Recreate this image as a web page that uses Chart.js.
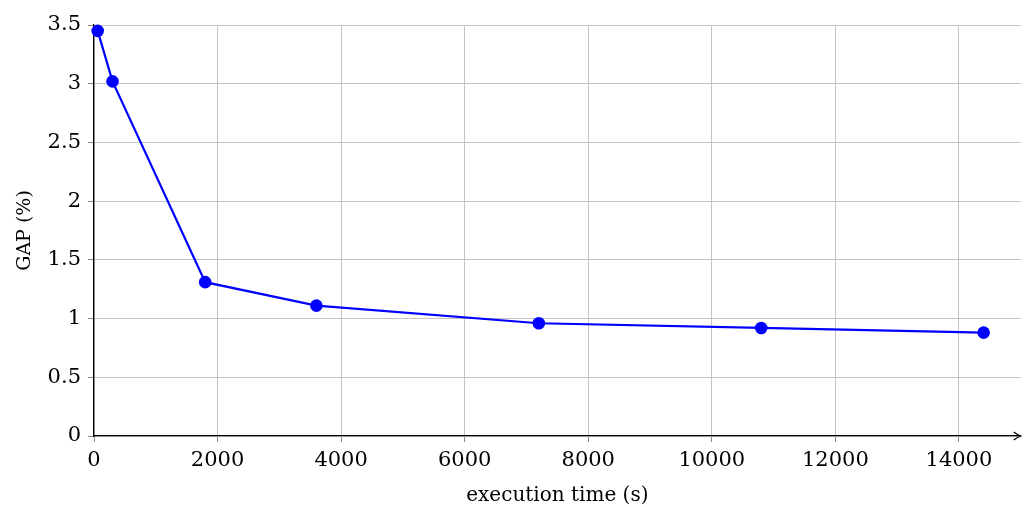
<!DOCTYPE html>
<html>
<head>
<meta charset="utf-8">
<script src="https://cdn.jsdelivr.net/npm/chart.js@4"></script>
<style>
  html, body { margin: 0; padding: 0; background: #fff; }
  #wrap { width: 1027px; height: 507px; }
</style>
</head>
<body>
<div id="wrap"><canvas id="gapChart" width="1027" height="507"></canvas></div>
<script>
// execution time (s) vs GAP (%)
const execTimes = [60, 300, 1800, 3600, 7200, 10800, 14400];
const gapValues = [3.45, 3.02, 1.31, 1.11, 0.96, 0.92, 0.88];
const xTicks = [0, 2000, 4000, 6000, 8000, 10000, 12000, 14000];
const yTicks = [0, 0.5, 1, 1.5, 2, 2.5, 3, 3.5];

const serif = "'DejaVu Serif', 'Liberation Serif', serif";

// arrow head at the end of the x axis
const axisArrow = {
  id: "axisArrow",
  afterDraw(chart) {
    const ctx = chart.ctx;
    const area = chart.chartArea;
    const y = chart.scales.y.getPixelForValue(0);
    const x = area.right;
    ctx.save();
    ctx.strokeStyle = "#000";
    ctx.lineWidth = 1.2;
    ctx.beginPath();
    ctx.moveTo(x - 7, y - 4);
    ctx.quadraticCurveTo(x - 3, y - 1, x, y);
    ctx.quadraticCurveTo(x - 3, y + 1, x - 7, y + 4);
    ctx.stroke();
    ctx.restore();
  },
};

const ctx = document.getElementById("gapChart").getContext("2d");
const chart = new Chart(ctx, {
  type: "line",
  data: {
    datasets: [
      {
        data: execTimes.map((t, i) => ({ x: t, y: gapValues[i] })),
        borderColor: "#0000ff",
        backgroundColor: "#0000ff",
        borderWidth: 2.2,
        pointRadius: 6.3,
        pointHoverRadius: 6.3,
        pointBackgroundColor: "#0000ff",
        pointBorderWidth: 0,
        fill: false,
        tension: 0,
      },
    ],
  },
  options: {
    responsive: false,
    animation: false,
    clip: false,
    layout: {
      padding: { top: 25, right: 5, bottom: 0, left: 0 },
    },
    plugins: {
      legend: { display: false },
      tooltip: { enabled: false },
    },
    scales: {
      x: {
        type: "linear",
        min: 0,
        max: 15000,
        afterBuildTicks: (scale) => {
          scale.ticks = xTicks.map((v) => ({ value: v }));
        },
        afterFit: (scale) => {
          scale.height = 71;
        },
        ticks: {
          color: "#000",
          font: { family: serif, size: 21 },
          padding: 6,
          maxRotation: 0,
          callback: (v) => String(v),
        },
        grid: {
          color: "#c4c4c4",
          lineWidth: 1,
          tickLength: 6,
          tickColor: "#888",
        },
        border: { color: "#000", width: 1.3 },
        title: {
          display: true,
          text: "execution time (s)",
          color: "#000",
          font: { family: serif, size: 20 },
          padding: { top: 0, bottom: -1 },
        },
      },
      y: {
        min: 0,
        max: 3.5,
        afterBuildTicks: (scale) => {
          scale.ticks = yTicks.map((v) => ({ value: v }));
        },
        afterFit: (scale) => {
          scale.width = 94;
        },
        ticks: {
          color: "#000",
          font: { family: serif, size: 21 },
          padding: 7,
          callback: (v) => String(v),
        },
        grid: {
          color: "#c4c4c4",
          lineWidth: 1,
          tickLength: 6,
          tickColor: "#888",
        },
        border: { color: "#000", width: 1.3 },
        title: {
          display: true,
          text: "GAP (%)",
          color: "#000",
          font: { family: serif, size: 19 },
          padding: { top: 14, bottom: 0 },
        },
      },
    },
  },
  plugins: [axisArrow],
});
</script>
</body>
</html>
